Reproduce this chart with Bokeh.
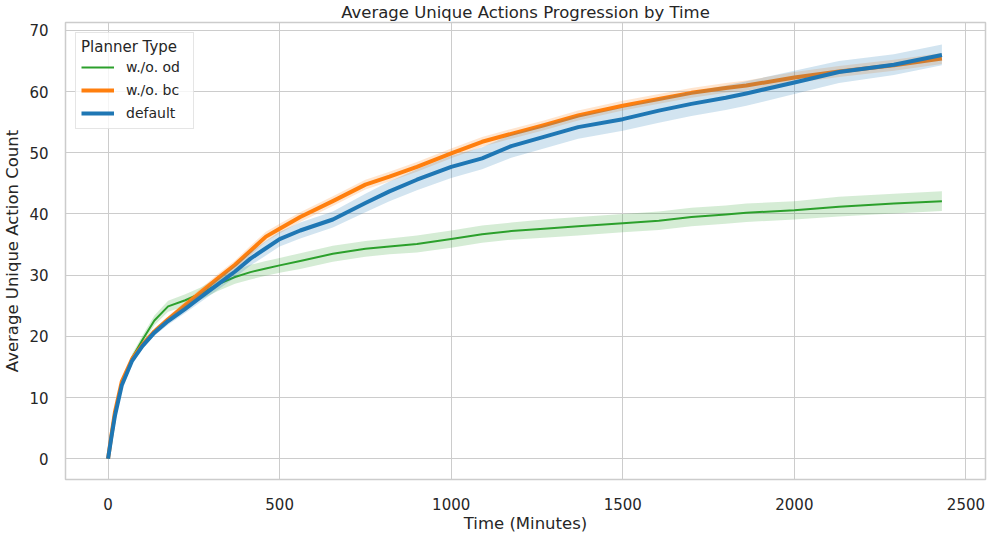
from bokeh.plotting import figure
from bokeh.models import Legend, LegendItem, FixedTicker, Range1d
from bokeh.embed import file_html
from bokeh.resources import INLINE
import numpy as np

# ---- data ----
times = [0, 10, 20, 40, 70, 100, 135, 175, 225, 270, 320, 370, 415, 460, 500,
         560, 655, 750, 820, 900, 1000, 1090, 1175, 1270, 1370, 1500, 1605,
         1700, 1800, 1860, 2000, 2130, 2290, 2430]

wo_od = [0, 3.7, 7.3, 12.3, 16.5, 19.4, 22.6, 24.9, 25.9, 27.0, 28.5, 29.7,
         30.5, 31.1, 31.6, 32.3, 33.5, 34.3, 34.7, 35.1, 35.9, 36.7, 37.2,
         37.6, 38.0, 38.5, 38.9, 39.5, 39.9, 40.2, 40.6, 41.2, 41.7, 42.1]
wo_bc = [0, 3.9, 7.6, 12.6, 16.3, 18.6, 20.8, 22.8, 25.1, 27.2, 29.5, 31.7,
         34.0, 36.3, 37.6, 39.5, 42.1, 44.8, 46.1, 47.7, 49.9, 51.8, 53.1,
         54.5, 56.1, 57.7, 58.8, 59.8, 60.6, 61.0, 62.3, 63.3, 64.3, 65.4]
default = [0, 3.6, 7.0, 12.0, 16.0, 18.4, 20.6, 22.5, 24.5, 26.4, 28.5, 30.6,
           32.7, 34.4, 35.9, 37.3, 39.1, 41.8, 43.7, 45.6, 47.7, 49.1, 51.1,
           52.6, 54.2, 55.5, 56.9, 58.0, 59.0, 59.7, 61.5, 63.2, 64.4, 66.0]

ci_wo_od = [0, 0.3, 0.4, 0.5, 0.6, 0.7, 0.8, 0.9, 1.0, 1.0, 1.1, 1.1, 1.2,
            1.2, 1.2, 1.3, 1.3, 1.3, 1.3, 1.4, 1.4, 1.4, 1.4, 1.5, 1.5, 1.5,
            1.5, 1.5, 1.5, 1.5, 1.5, 1.6, 1.6, 1.6]
ci_wo_bc = [0, 0.3, 0.4, 0.4, 0.4, 0.4, 0.5, 0.5, 0.6, 0.6, 0.7, 0.7, 0.8,
            0.8, 0.8, 0.8, 0.8, 0.8, 0.8, 0.8, 0.8, 0.8, 0.8, 0.8, 0.8, 0.8,
            0.8, 0.8, 0.8, 0.8, 0.9, 0.9, 0.9, 0.9]
ci_default = [0, 0.3, 0.4, 0.4, 0.4, 0.5, 0.5, 0.6, 0.7, 0.8, 0.9, 1.0, 1.1,
              1.2, 1.2, 1.3, 1.3, 1.5, 1.6, 1.7, 1.8, 1.8, 1.9, 1.9, 1.9, 1.9,
              2.0, 2.0, 2.0, 2.0, 1.9, 1.8, 1.7, 1.7]

labels = ["w./o. od", "w./o. bc", "default"]
x_ticks = [0, 500, 1000, 1500, 2000, 2500]
y_ticks = [0, 10, 20, 30, 40, 50, 60, 70]

series = [
    (labels[0], wo_od, ci_wo_od, "#2ca02c", 2),
    (labels[1], wo_bc, ci_wo_bc, "#ff7f0e", 4),
    (labels[2], default, ci_default, "#1f77b4", 4),
]

TXT = "#262626"
GRID = "#cccccc"
FONT = "DejaVu Sans"

p = figure(width=987, height=535, output_backend="svg", toolbar_location=None,
           x_range=Range1d(-124, 2557), y_range=Range1d(-3.4, 71.3),
           min_border_left=55, min_border_right=2, min_border_top=21,
           min_border_bottom=51)

p.title.text = "Average Unique Actions Progression by Time"
p.title.align = "center"
p.title.text_font = FONT
p.title.text_font_size = "16.5px"
p.title.text_font_style = "normal"
p.title.text_color = TXT
p.title.standoff = 1
p.title.offset = 0

p.outline_line_color = GRID
p.outline_line_width = 1.5
p.background_fill_color = "white"
p.border_fill_color = "white"

for g in (p.xgrid, p.ygrid):
    g.grid_line_color = GRID
    g.grid_line_width = 1

for ax in (p.xaxis, p.yaxis):
    ax.axis_line_color = None
    ax.major_tick_line_color = None
    ax.minor_tick_line_color = None
    ax.major_label_text_font = FONT
    ax.major_label_text_font_size = "15px"
    ax.major_label_text_color = TXT
    ax.axis_label_text_font = FONT
    ax.axis_label_text_font_size = "16.5px"
    ax.axis_label_text_font_style = "normal"
    ax.axis_label_text_color = TXT

p.xaxis.ticker = FixedTicker(ticks=x_ticks)
p.yaxis.ticker = FixedTicker(ticks=y_ticks)
p.xaxis.axis_label = "Time (Minutes)"
p.yaxis.axis_label = "Average Unique Action Count"
p.xaxis.major_label_standoff = 12
p.yaxis.major_label_standoff = 11
p.xaxis.axis_label_standoff = 1
p.yaxis.axis_label_standoff = 4

items = []
for name, vals, ci, color, lw in series:
    v = np.array(vals)
    c = np.array(ci)
    p.varea(x=times, y1=v - c, y2=v + c, fill_color=color, fill_alpha=0.2)
    r = p.line(times, vals, line_color=color, line_width=lw, line_join="round")
    items.append(LegendItem(label=name, renderers=[r]))

legend = Legend(items=items, location="top_left", title="Planner Type")
legend.title_text_font = FONT
legend.title_text_font_size = "15px"
legend.title_text_font_style = "normal"
legend.title_text_color = TXT
legend.title_standoff = 1
legend.label_text_font = FONT
legend.label_text_font_size = "14px"
legend.label_text_color = TXT
legend.label_width = 62
legend.glyph_width = 33
legend.glyph_height = 20
legend.label_standoff = 12
legend.spacing = 3
legend.padding = 5
legend.margin = 10
legend.border_line_color = GRID
legend.border_line_width = 1
legend.background_fill_alpha = 0.8
p.add_layout(legend)

open("out.html", "w").write(file_html(p, INLINE))
